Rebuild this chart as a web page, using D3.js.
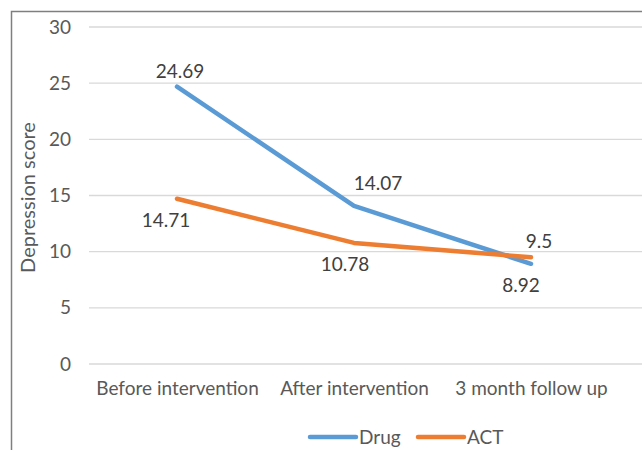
<!DOCTYPE html>
<html><head><meta charset="utf-8">
<script src="https://cdn.jsdelivr.net/npm/d3@7"></script>
<style>
html,body{margin:0;padding:0;background:#fff;}
svg{display:block;font-family:Lato,"Open Sans",sans-serif;}
</style></head>
<body>
<script>
const categories = ["Before intervention", "After intervention", "3 month follow up"];
const drugValues = [24.69, 14.07, 8.92];
const actValues = [14.71, 10.78, 9.5];
const seriesNames = ["Drug", "ACT"];
const yTicks = [0, 5, 10, 15, 20, 25, 30];
const yTitle = "Depression score";

const W = 642, H = 450;
const colors = {"Drug": "#5B9BD5", "ACT": "#ED7D31"};
const FS = 19;
// label offsets (dx, dy) relative to point, per series
const labelOffsets = {
  "Drug": [[3, -15], [24, -23], [-10, 22]],
  "ACT": [[-11, 22], [-9, 21], [8, -16]]
};

const svg = d3.select("body").append("svg").attr("width", W).attr("height", H);

// outer border
svg.append("path").attr("d", `M11.5,${H} L11.5,11.5 L${W},11.5`)
  .attr("fill", "none").attr("stroke", "#7f7f7f").attr("stroke-width", 1.5);

const x = d3.scalePoint().domain(categories).range([177, 531]);
const y = d3.scaleLinear().domain([0, 30]).range([364, 27]);

// gridlines
svg.append("g").selectAll("line").data(yTicks).join("line")
  .attr("x1", 89).attr("x2", W)
  .attr("y1", d => y(d)).attr("y2", d => y(d))
  .attr("stroke", "#d9d9d9").attr("stroke-width", 1.3);

// y axis
const yAxis = svg.append("g").attr("transform", "translate(71,0)")
  .call(d3.axisLeft(y).tickValues(yTicks).tickSize(0).tickPadding(0).tickFormat(d3.format("d")));
yAxis.select(".domain").remove();
yAxis.selectAll("text").attr("font-size", FS).attr("fill", "#595959")
  .attr("font-family", "Lato, 'Open Sans', sans-serif");

// x axis labels
const xAxis = svg.append("g").attr("transform", `translate(0,${y(0)})`)
  .call(d3.axisBottom(x).tickSize(0).tickPadding(18));
xAxis.select(".domain").remove();
xAxis.selectAll("text").attr("font-size", FS).attr("fill", "#595959")
  .attr("font-family", "Lato, 'Open Sans', sans-serif");

// y title
svg.append("text").attr("transform", `translate(35,${(y(0)+y(30))/2 + 2}) rotate(-90)`)
  .attr("text-anchor", "middle").attr("font-size", 20).attr("fill", "#595959")
  .text(yTitle);

const series = [
  {name: "Drug", values: drugValues},
  {name: "ACT", values: actValues}
];

const line = d3.line().x((d, i) => x(categories[i])).y(d => y(d));

series.forEach(s => {
  svg.append("path").datum(s.values).attr("d", line)
    .attr("fill", "none").attr("stroke", colors[s.name]).attr("stroke-width", 4.5)
    .attr("stroke-linecap", "round").attr("stroke-linejoin", "round");
});

series.forEach(s => {
  svg.append("g").selectAll("text").data(s.values).join("text")
    .attr("x", (d, i) => x(categories[i]) + labelOffsets[s.name][i][0])
    .attr("y", (d, i) => y(d) + labelOffsets[s.name][i][1])
    .attr("dy", "0.35em")
    .attr("text-anchor", "middle").attr("font-size", FS).attr("fill", "#404040")
    .text(d => d);
});

// legend
const legend = svg.append("g");
const legendItems = [{name: "Drug", x: 310}, {name: "ACT", x: 418}];
legendItems.forEach(it => {
  legend.append("line").attr("x1", it.x).attr("x2", it.x + 46)
    .attr("y1", 437).attr("y2", 437)
    .attr("stroke", colors[it.name]).attr("stroke-width", 4.5).attr("stroke-linecap", "round");
  legend.append("text").attr("x", it.x + 49).attr("y", 437).attr("dy", "0.35em")
    .attr("font-size", FS).attr("fill", "#595959").text(it.name);
});
</script>
</body></html>
